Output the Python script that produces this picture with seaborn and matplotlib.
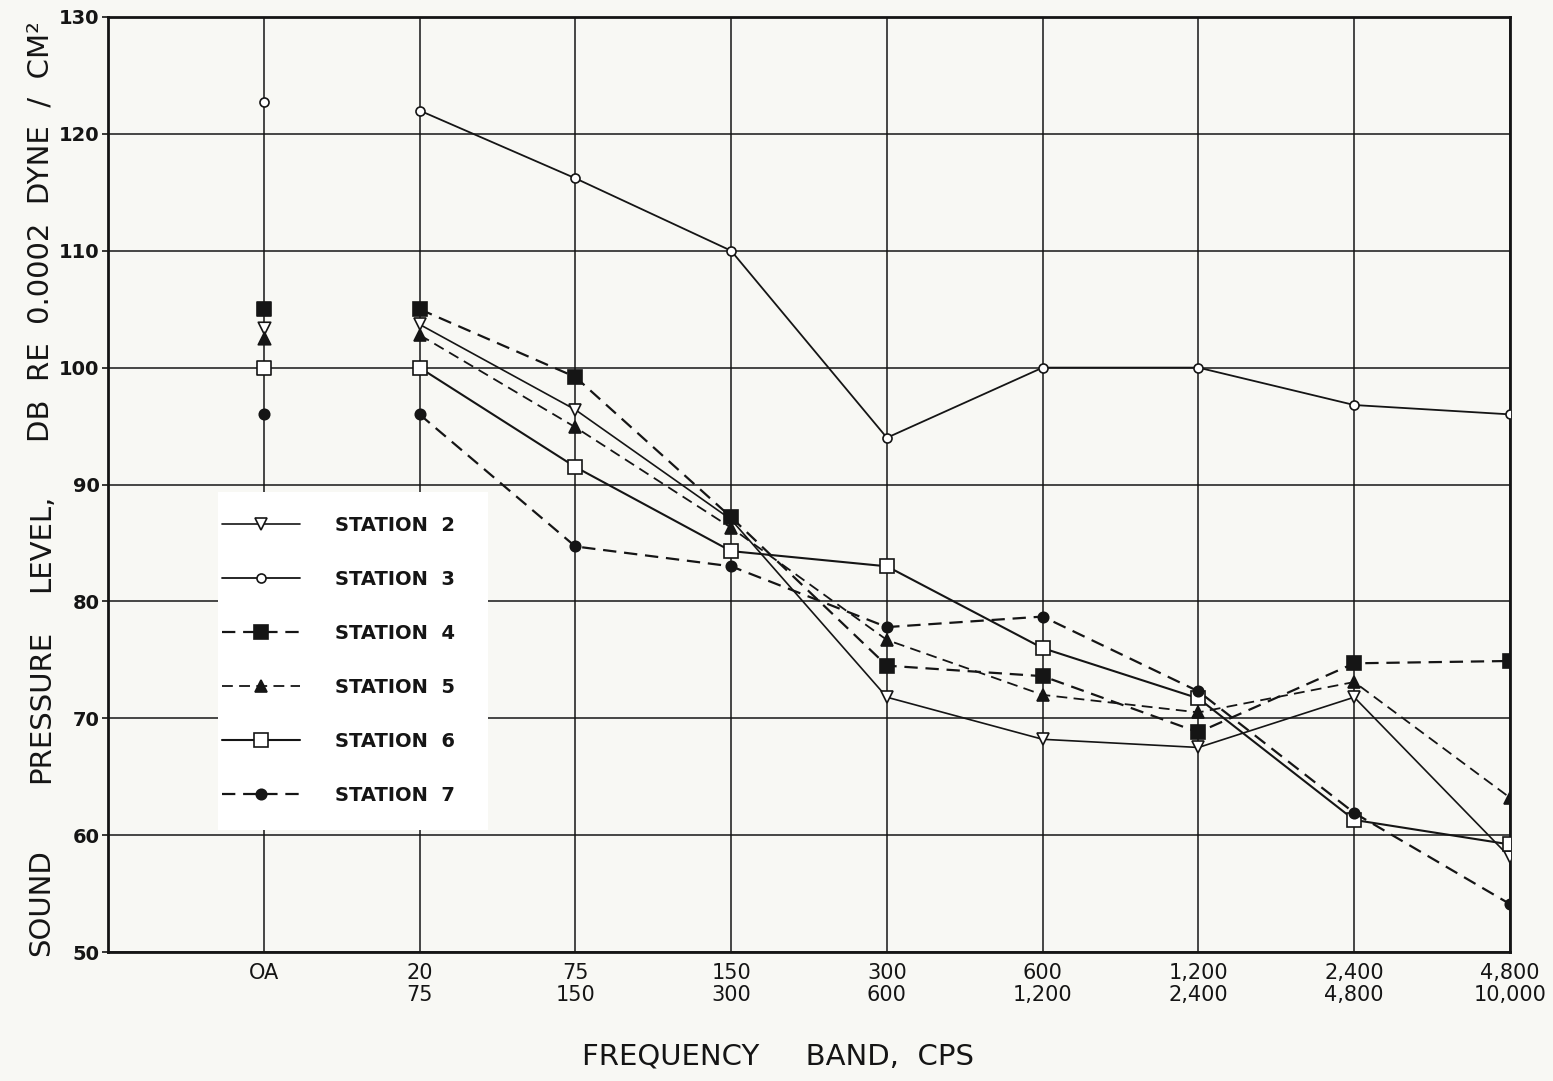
import matplotlib
matplotlib.use('Agg')
import matplotlib.pyplot as plt
from matplotlib.patches import Rectangle
import seaborn as sns

# bandas de frecuencia (OA = overall)
bandas = ['OA', '20\n75', '75\n150', '150\n300', '300\n600',
          '600\n1,200', '1,200\n2,400', '2,400\n4,800', '4,800\n10,000']

estaciones = ['STATION  2', 'STATION  3', 'STATION  4',
              'STATION  5', 'STATION  6', 'STATION  7']

# niveles en dB, primer valor = OA
st2 = [103.4, 103.7, 96.4, 87.0, 71.8, 68.2, 67.5, 71.8, 58.1]
st3 = [122.7, 122.0, 116.2, 110.0, 94.0, 100.0, 100.0, 96.8, 96.0]
st4 = [105.0, 105.0, 99.2, 87.2, 74.5, 73.6, 68.8, 74.7, 74.9]
st5 = [102.5, 102.8, 94.9, 86.3, 76.7, 72.0, 70.5, 73.1, 63.2]
st6 = [100.0, 100.0, 91.5, 84.3, 83.0, 76.0, 71.7, 61.3, 59.2]
st7 = [96.0, 96.0, 84.7, 83.0, 77.8, 78.7, 72.3, 61.9, 54.1]

niveles = [st2, st3, st4, st5, st6, st7]

# estilo de cada estacion: marcador, relleno, tamano, linea
marcadores = ['v', 'o', 's', '^', 's', 'o']
rellenos = ['white', 'white', '#151515', '#151515', 'white', '#151515']
tamanos = [9, 6.5, 10, 9, 9.5, 7.5]
lineas = ['-', '-', (0, (6, 3.5)), (0, (6, 3.5)), '-', (0, (6, 3.5))]
grosores = [1.2, 1.3, 1.6, 1.3, 1.5, 1.6]

fondo = '#f8f8f4'
tinta = '#151515'

sns.set_style('white')
plt.rcParams['font.family'] = ['DejaVu Sans']

fig = plt.figure(figsize=(15.53, 10.81), dpi=100, facecolor=fondo)
ax = fig.add_axes([108 / 1553, 1 - 952 / 1081, 1402 / 1553, 935 / 1081])
ax.set_facecolor(fondo)

pos = list(range(len(bandas)))

#### GRAFICA
for i, nombre in enumerate(estaciones):
    vals = niveles[i]
    sns.lineplot(x=pos[1:], y=vals[1:], ax=ax, color=tinta,
                 marker=marcadores[i], markersize=tamanos[i],
                 markerfacecolor=rellenos[i], markeredgecolor=tinta,
                 markeredgewidth=1.2, linestyle=lineas[i],
                 linewidth=grosores[i], label=nombre, zorder=3)
    # punto OA sin linea
    sns.scatterplot(x=[pos[0]], y=[vals[0]], ax=ax, marker=marcadores[i],
                    s=tamanos[i] ** 2, color=rellenos[i], edgecolor=tinta,
                    linewidth=1.2, zorder=4)

ax.set_xlim(-1, 8)
ax.set_ylim(50, 130)
ax.set_xticks(pos)
ax.set_xticklabels(bandas, fontsize=15, linespacing=1.1)
ax.set_yticks(range(50, 131, 10))
ax.set_yticklabels([str(v) for v in range(50, 131, 10)], fontsize=14,
                   fontweight='bold')
ax.tick_params(axis='x', length=0, pad=8, colors=tinta)
ax.tick_params(axis='y', length=4, width=1.2, pad=2, colors=tinta, left=True)
ax.grid(True, color=tinta, linewidth=1.1)
ax.set_axisbelow(True)
for lado in ax.spines.values():
    lado.set_color(tinta)
    lado.set_linewidth(2)
ax.set_xlabel('')
ax.set_ylabel('')

# fondo blanco de la leyenda, tapa la reticula
ax.add_patch(Rectangle((0.0785, 0.1305), 0.1926, 0.3615, transform=ax.transAxes,
                       facecolor='white', edgecolor='none', zorder=2))

ley = ax.legend(loc='upper left', bbox_to_anchor=(0.0813, 0.466),
                borderaxespad=0, borderpad=0, frameon=False,
                handlelength=4.0, handletextpad=1.8, labelspacing=1.8,
                numpoints=1, prop={'size': 14, 'weight': 'bold'})
ley.set_zorder(5)
for t in ley.get_texts():
    t.set_color(tinta)

# titulo del eje y, por partes como en el original
kw_y = dict(rotation=90, ha='center', va='center', fontsize=21, color=tinta)
fig.text(41 / 1553, 1 - 903 / 1081, 'SOUND', **kw_y)
fig.text(41 / 1553, 1 - 706 / 1081, 'PRESSURE', **kw_y)
fig.text(41 / 1553, 1 - 543 / 1081, 'LEVEL,', **kw_y)
fig.text(41 / 1553, 1 - 232 / 1081, 'DB  RE  0.0002  DYNE  /  CM\u00b2', **kw_y)

fig.text(778 / 1553, 1 - 1056 / 1081, 'FREQUENCY     BAND,  CPS',
         ha='center', va='center', fontsize=21, color=tinta)

fig.savefig('out.png', dpi=100, facecolor=fondo)
